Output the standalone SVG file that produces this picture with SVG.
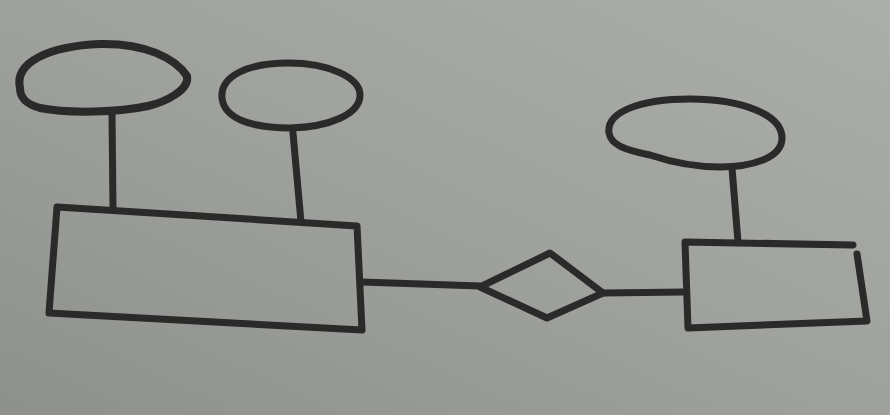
<svg xmlns="http://www.w3.org/2000/svg" width="890" height="415" viewBox="0 0 890 415">
  <defs>
    <linearGradient id="paper" x1="0" y1="1" x2="1" y2="0">
      <stop offset="0" stop-color="#8e908c"/>
      <stop offset="0.5" stop-color="#9fa19d"/>
      <stop offset="1" stop-color="#acaeaa"/>
    </linearGradient>
    <style>
      .ink { fill: none; stroke: #2a2a2a; stroke-width: 7; stroke-linecap: round; stroke-linejoin: round; }
      .thick { stroke-width: 8; }
    </style>
  </defs>
  <rect x="0" y="0" width="890" height="415" fill="url(#paper)"/>

  <g id="attr1">
    <path class="ink thick" d="M20,88 C14,62 50,46 100,44 C145,43 175,58 187,76 C190,90 165,102 148,106 C120,112 70,114 40,108 C26,104 20,98 20,88 Z"/>
  </g>
  <g id="attr2">
    <path class="ink" d="M222,98 C220,76 248,63 288,63 C330,63 360,78 360,95 C360,114 330,127 290,128 C250,128 224,118 222,98 Z"/>
  </g>
  <g id="attr3">
    <path class="ink" d="M609,133 C606,112 640,99 690,99 C740,99 782,114 782,138 C782,158 752,167 720,167 C690,167 665,160 650,155 C625,150 611,145 609,133 Z"/>
  </g>

  <g id="entity1">
    <path class="ink" d="M57,207 L357,226 L362,330 L49,313 Z"/>
  </g>
  <g id="entity2">
    <path class="ink" d="M853,245 L685,242 L688,328 L867,321 L857,254"/>
  </g>
  <g id="relationship">
    <path class="ink" d="M480,287 L550,253 L603,293 L547,318 Z"/>
  </g>

  <g id="connectors">
    <path class="ink" d="M112,113 L113,209"/>
    <path class="ink" d="M293,133 L301,222"/>
    <path class="ink" d="M732,168 L738,242"/>
    <path class="ink" d="M362,282 L480,286"/>
    <path class="ink" d="M603,293 L685,292"/>
  </g>
</svg>
